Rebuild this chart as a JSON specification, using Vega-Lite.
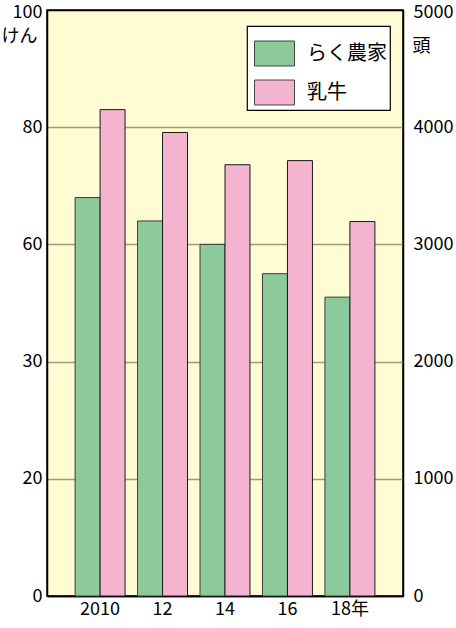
{
  "$schema": "https://vega.github.io/schema/vega-lite/v6.json",
  "width": 356,
  "height": 586,
  "autosize": "none",
  "padding": {"left": 47, "top": 10, "right": 53, "bottom": 32},
  "background": "white",
  "config": {
    "font": "Noto Sans CJK JP",
    "view": {"fill": "#fffbd3", "stroke": "black", "strokeWidth": 1.5},
    "legend": {
      "orient": "none",
      "legendX": 200,
      "legendY": 16,
      "fillColor": "white",
      "strokeColor": "black",
      "strokeWidth": 1.2,
      "padding": 3,
      "rowPadding": -16,
      "symbolType": "M-0.833,-0.52H0.833V0.52H-0.833Z",
      "symbolSize": 2304,
      "symbolStrokeColor": "#444444",
      "symbolStrokeWidth": 1,
      "symbolOpacity": 1,
      "labelFontSize": 20,
      "labelColor": "black",
      "labelOffset": 8
    }
  },
  "data": {
    "values": [
      {"year": "2010", "series": "らく農家", "value": 68},
      {"year": "12", "series": "らく農家", "value": 64},
      {"year": "14", "series": "らく農家", "value": 60},
      {"year": "16", "series": "らく農家", "value": 55},
      {"year": "18年", "series": "らく農家", "value": 51},
      {"year": "2010", "series": "乳牛", "value": 4150},
      {"year": "12", "series": "乳牛", "value": 3955},
      {"year": "14", "series": "乳牛", "value": 3680},
      {"year": "16", "series": "乳牛", "value": 3715},
      {"year": "18年", "series": "乳牛", "value": 3195}
    ]
  },
  "encoding": {
    "x": {
      "field": "year",
      "type": "nominal",
      "sort": ["2010", "12", "14", "16", "18年"],
      "scale": {"paddingInner": 0.2, "paddingOuter": 0.45},
      "axis": {
        "title": null,
        "labelAngle": 0,
        "ticks": false,
        "domainColor": "black",
        "domainWidth": 1.5,
        "labelFontSize": 18,
        "labelColor": "black",
        "labelPadding": 4
      }
    },
    "xOffset": {
      "field": "series",
      "type": "nominal",
      "sort": ["らく農家", "乳牛"],
      "scale": {"paddingInner": 0, "paddingOuter": 0}
    },
    "color": {
      "field": "series",
      "type": "nominal",
      "scale": {"domain": ["らく農家", "乳牛"], "range": ["#8cc99b", "#f4b4cf"]},
      "legend": {"title": null}
    }
  },
  "layer": [
    {
      "transform": [{"filter": "datum.series == 'らく農家'"}],
      "mark": {"type": "bar", "stroke": "#3c3c3c", "strokeWidth": 1, "opacity": 1},
      "encoding": {
        "y": {
          "field": "value",
          "type": "quantitative",
          "scale": {"domain": [0, 100], "nice": false},
          "axis": {
            "title": "けん",
            "titleAngle": 0,
            "titleX": -28,
            "titleY": 26,
            "titleBaseline": "middle",
            "titleFontSize": 18,
            "titleFontWeight": "normal",
            "titleColor": "black",
            "values": [0, 20, 40, 60, 80, 100],
            "labelExpr": "datum.value == 40 ? '30' : datum.label",
            "labelFlush": false,
            "labelOffset": {"condition": {"test": "datum.value == 100", "value": 2}, "value": 0},
            "ticks": false,
            "labelPadding": 5,
            "labelFontSize": 18,
            "labelColor": "black",
            "domainColor": "black",
            "domainWidth": 1.5,
            "grid": true,
            "gridColor": {"condition": {"test": "datum.value == 0 || datum.value == 100", "value": "black"}, "value": "#9e9a7e"},
            "gridWidth": 1.5,
            "gridOpacity": 1
          }
        }
      }
    },
    {
      "transform": [{"filter": "datum.series == '乳牛'"}],
      "mark": {"type": "bar", "stroke": "#1a1a1a", "strokeWidth": 1, "opacity": 1},
      "encoding": {
        "y": {
          "field": "value",
          "type": "quantitative",
          "scale": {"domain": [0, 5000], "nice": false},
          "axis": {
            "orient": "right",
            "title": "頭",
            "titleAngle": 0,
            "titleX": 18,
            "titleY": 36,
            "titleBaseline": "middle",
            "titleFontSize": 18,
            "titleFontWeight": "normal",
            "titleColor": "black",
            "values": [0, 1000, 2000, 3000, 4000, 5000],
            "format": "d",
            "labelFlush": false,
            "labelOffset": {"condition": {"test": "datum.value == 5000", "value": 2}, "value": 0},
            "ticks": false,
            "labelPadding": 10,
            "labelFontSize": 18,
            "labelColor": "black",
            "domainColor": "black",
            "domainWidth": 1.5,
            "grid": false
          }
        }
      }
    }
  ],
  "resolve": {"scale": {"y": "independent"}}
}
